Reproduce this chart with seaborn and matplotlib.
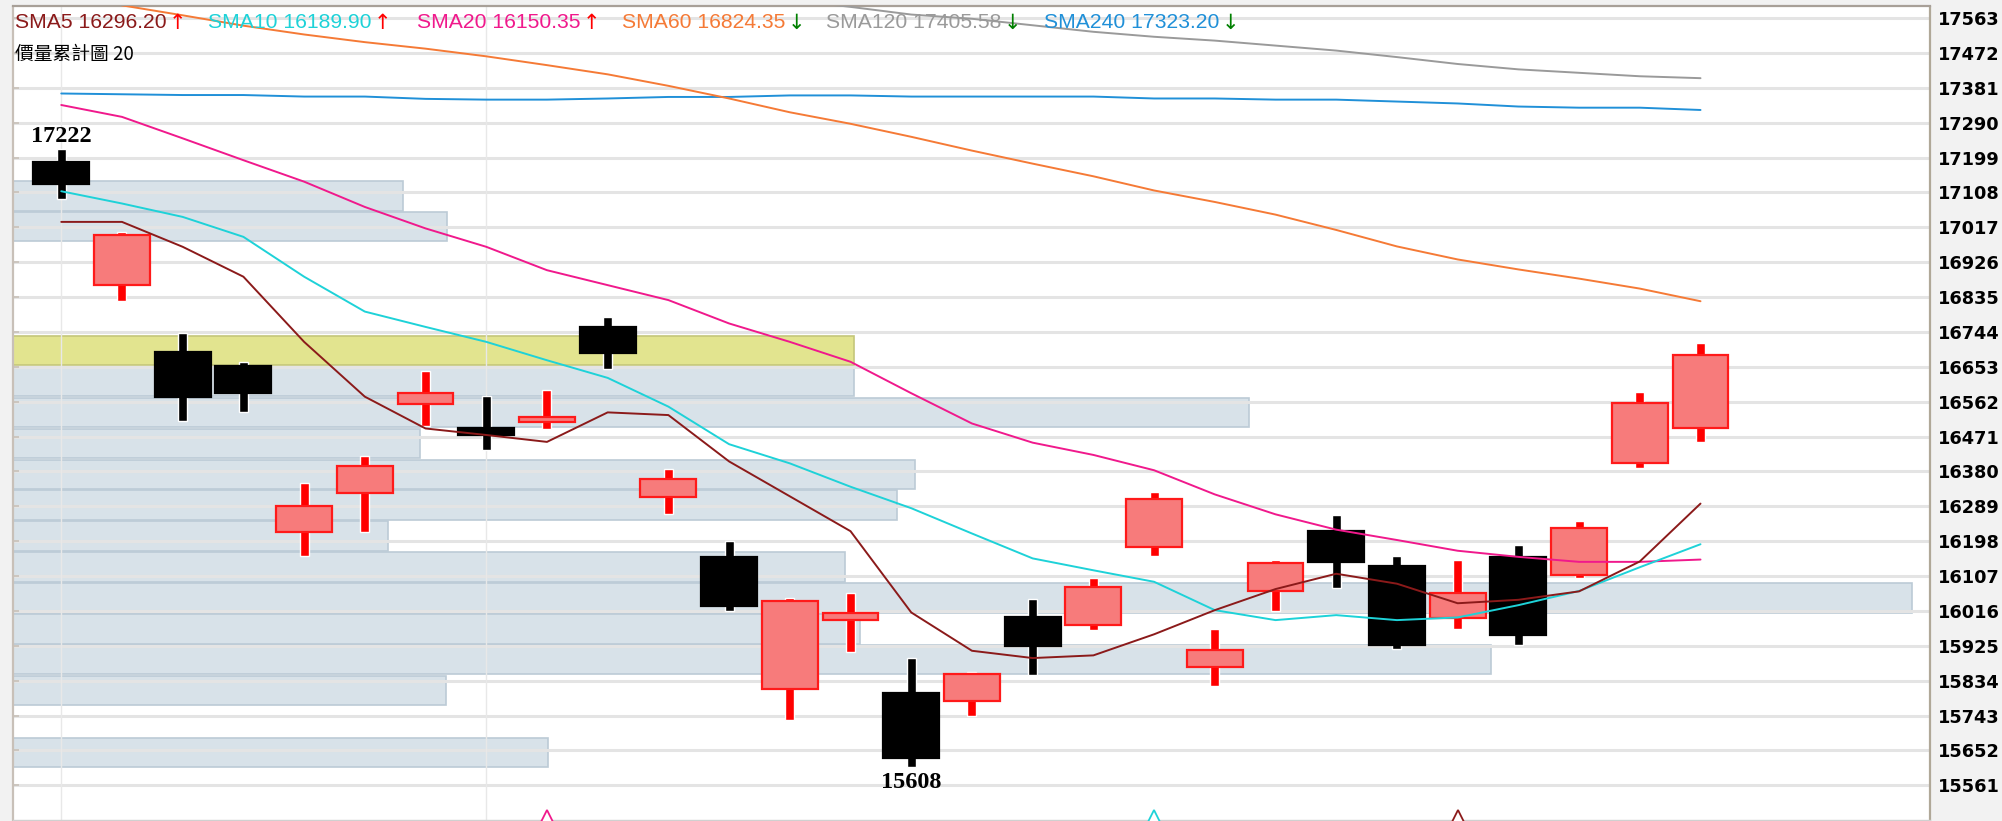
import numpy as np
import pandas as pd
import matplotlib
matplotlib.use('Agg')
import matplotlib.pyplot as plt
import seaborn as sns

sns.set_theme(style='white')
plt.rcParams['font.family'] = ['Liberation Sans', 'DejaVu Sans', 'Noto Sans CJK TC']

# K線資料 (開, 高, 低, 收)
opens = [17186, 16867, 16692, 16655, 16222, 16323, 16557, 16492, 16508, 16757,
         16314, 16157, 15811, 15992, 15803, 15781, 16001, 15979, 16182, 15870,
         16069, 16225, 16134, 15998, 16157, 16111, 16401, 16492]
highs = [17222, 17005, 16742, 16666, 16349, 16420, 16643, 16577, 16592, 16783,
         16385, 16199, 16050, 16063, 15894, 15856, 16046, 16101, 16325, 15968,
         16150, 16266, 16159, 16150, 16188, 16251, 16586, 16716]
lows = [17092, 16825, 16511, 16536, 16159, 16222, 16498, 16436, 16490, 16647,
        16268, 16016, 15731, 15908, 15608, 15742, 15849, 15966, 16159, 15820,
        16016, 16076, 15916, 15969, 15927, 16101, 16389, 16458]
closes = [17129, 16997, 16573, 16585, 16289, 16394, 16584, 16475, 16523, 16689,
          16360, 16029, 16042, 16010, 15631, 15851, 15924, 16079, 16307, 15914,
          16142, 16143, 15927, 16063, 15953, 16233, 16559, 16683]

# 均線
sma5 = [17031, 17031, 16966, 16888, 16718, 16575, 16492, 16475, 16457, 16534,
        16527, 16406, 16315, 16224, 16012, 15912, 15893, 15900, 15955, 16018,
        16073, 16113, 16087, 16036, 16045, 16067, 16145, 16296]
sma10 = [17111, 17079, 17044, 16992, 16888, 16797, 16757, 16718, 16670, 16624,
         16549, 16451, 16401, 16340, 16284, 16218, 16153, 16122, 16092, 16018,
         15992, 16005, 15992, 15999, 16031, 16068, 16130, 16190]
sma20 = [17336, 17305, 17249, 17192, 17136, 17070, 17014, 16966, 16905, 16866,
         16827, 16766, 16718, 16666, 16584, 16505, 16455, 16423, 16383, 16320,
         16268, 16228, 16201, 16173, 16157, 16144, 16144, 16150]
sma60 = [17643, 17596, 17570, 17543, 17520, 17500, 17483, 17463, 17440, 17416,
         17386, 17353, 17317, 17287, 17253, 17217, 17183, 17150, 17113, 17083,
         17050, 17010, 16967, 16933, 16907, 16883, 16857, 16824]
sma120 = [17700, 17695, 17690, 17684, 17678, 17672, 17665, 17657, 17650, 17642,
          17634, 17625, 17610, 17592, 17572, 17561, 17544, 17527, 17514, 17504,
          17491, 17478, 17461, 17443, 17429, 17420, 17411, 17406]
sma240 = [17366, 17364, 17362, 17362, 17358, 17358, 17352, 17350, 17350, 17353,
          17357, 17357, 17361, 17361, 17358, 17358, 17358, 17358, 17353, 17353,
          17350, 17350, 17345, 17340, 17332, 17329, 17329, 17323]

legend_names = ['SMA5', 'SMA10', 'SMA20', 'SMA60', 'SMA120', 'SMA240']
legend_values = ['16296.20', '16189.90', '16150.35', '16824.35', '17405.58', '17323.20']
legend_up = [True, True, True, False, False, False]
ma_colors = ['#8b1a1a', '#1ed2d8', '#f0198c', '#f57a36', '#9a9a9a', '#2090d8']

# 價量累計圖 (20 區間)
profile_lo, profile_hi, profile_n = 15608, 17222, 20
profile_vol = [418, 0, 338, 1155, 662, 1484, 650, 293, 691, 705,
               318, 966, 657, 657, 0, 0, 0, 339, 305, 0]
current_bin = 13

# 訊號三角
signal_idx = [8, 18, 23]
signal_colors = ['#f0198c', '#1ed2d8', '#8b1a1a']

y_ticks = [15561 + 91 * k for k in range(23)]
month_lines = [0, 7]

W, H = 2002, 821
fig = plt.figure(figsize=(W / 100, H / 100), dpi=100, facecolor='#f2f2f2')
ax = fig.add_axes([13 / W, 0.001, (1930 - 13) / W, 1 - 6.5 / H - 0.001])
ax.set_facecolor('white')

n = len(closes)
x = np.arange(n)
ax.set_xlim(-0.795, 30.78)
ax.set_ylim(15470, 17593)

# 格線
for t in y_ticks:
    ax.axhline(t, color='#e4e4e4', lw=2.2, zorder=0)
for m in month_lines:
    ax.axvline(m, color='#e8e8e8', lw=1.0, zorder=0)

# 價量累計圖
ax2 = ax.twiny()
ax2.set_xlim(0, 1498)
ax2.set_ylim(ax.get_ylim())
step = (profile_hi - profile_lo) / profile_n
bin_bottoms = [profile_lo + step * k for k in range(profile_n)]
bar_colors = ['#e2e48f' if k == current_bin else '#d8e2e9' for k in range(profile_n)]
edge_colors = ['#c4c67a' if k == current_bin else '#bccbd6' for k in range(profile_n)]
ax2.barh(bin_bottoms, profile_vol, height=step * 0.95, left=0, align='edge',
         color=bar_colors, edgecolor=edge_colors, linewidth=1.2, zorder=1)
ax2.set_xticks([])
ax2.axis('off')
ax2.set_zorder(ax.get_zorder() - 1)
ax.patch.set_visible(False)
fig.patches.append(plt.Rectangle((13 / W, 0.001), (1930 - 13) / W, 1 - 6.5 / H - 0.001,
                                 transform=fig.transFigure, facecolor='white',
                                 edgecolor='none', zorder=-10))

# K線
up = np.array(closes) >= np.array(opens)
body_lo = np.minimum(opens, closes)
body_h = np.abs(np.array(closes) - np.array(opens))
wick_colors = np.where(up, '#ff0000', '#000000')
body_face = np.where(up, '#f77b7b', '#000000')
body_edge = np.where(up, '#ff1a1a', '#000000')
ax.bar(x, np.array(highs) - np.array(lows), bottom=lows, width=0.148,
       color=wick_colors, zorder=3)
ax.bar(x, body_h, bottom=body_lo, width=0.92, color=body_face,
       edgecolor=body_edge, linewidth=1.6, zorder=4)

# 均線
ma_df = pd.DataFrame({'SMA5': sma5, 'SMA10': sma10, 'SMA20': sma20,
                      'SMA60': sma60, 'SMA120': sma120, 'SMA240': sma240})
ma_df['idx'] = x
long_df = ma_df.melt(id_vars='idx', var_name='name', value_name='value')
sns.lineplot(data=long_df, x='idx', y='value', hue='name',
             hue_order=legend_names[::-1], palette=dict(zip(legend_names, ma_colors)),
             linewidth=1.4, legend=False, ax=ax, zorder=5)

# 訊號
for i, c in zip(signal_idx, signal_colors):
    ax.plot(i, 15468, marker='^', markersize=16, markerfacecolor='white',
            markeredgecolor=c, markeredgewidth=1.3, zorder=6, clip_on=True)

# 最高/最低標示
imax = int(np.argmax(highs))
imin = int(np.argmin(lows))
ax.annotate(str(highs[imax]), (imax, highs[imax]), xytext=(0, 7), textcoords='offset pixels',
            ha='center', va='baseline', fontsize=17.5, fontweight='bold',
            family=['Liberation Serif', 'DejaVu Serif'], color='black', zorder=7)
ax.annotate(str(lows[imin]), (imin, lows[imin]), xytext=(0, -21), textcoords='offset pixels',
            ha='center', va='baseline', fontsize=17.5, fontweight='bold',
            family=['Liberation Serif', 'DejaVu Serif'], color='black', zorder=7)

# 座標軸
ax.set_yticks(y_ticks)
ax.set_xticks([])
ax.set_xlabel('')
ax.set_ylabel('')
ax.yaxis.tick_right()
ax.tick_params(axis='y', which='major', right=False, left=True, direction='in',
               length=4, width=1.2, color='#c8c0b8', labelleft=False, labelright=True,
               pad=6, labelsize=12.8)
for lab in ax.get_yticklabels():
    lab.set_fontweight('bold')
    lab.set_family(['DejaVu Sans'])
    lab.set_color('black')
for side in ['left', 'right', 'top', 'bottom']:
    ax.spines[side].set_visible(True)
ax.spines['left'].set_color('#c8c0b8')
ax.spines['left'].set_linewidth(1.6)
ax.spines['right'].set_color('#b0a898')
ax.spines['right'].set_linewidth(1.6)
ax.spines['top'].set_color('#a8a098')
ax.spines['top'].set_linewidth(1.6)
ax.spines['bottom'].set_color('#d0d0d0')
ax.spines['bottom'].set_linewidth(1.0)

# 圖例文字
legend_x = [15, 208, 417, 622, 826, 1044]
for name, val, isup, col, lx in zip(legend_names, legend_values, legend_up, ma_colors, legend_x):
    t = fig.text(lx / W, 1 - 23 / H, f'{name} {val}', color=col, fontsize=15.2,
                 ha='left', va='center', zorder=10)
    ax.annotate('↑' if isup else '↓', xy=(1, 0.5), xycoords=t, xytext=(2, 0),
                textcoords='offset pixels', ha='left', va='center', fontsize=15,
                family=['DejaVu Sans'], color='#ff0000' if isup else '#008000',
                annotation_clip=False, zorder=10)
fig.text(15 / W, 1 - 54 / H, '價量累計圖 20', color='black', fontsize=13.5,
         family=['Noto Sans CJK TC', 'DejaVu Sans'], ha='left', va='center', zorder=10)

fig.savefig('out.png', dpi=100, facecolor=fig.get_facecolor())
